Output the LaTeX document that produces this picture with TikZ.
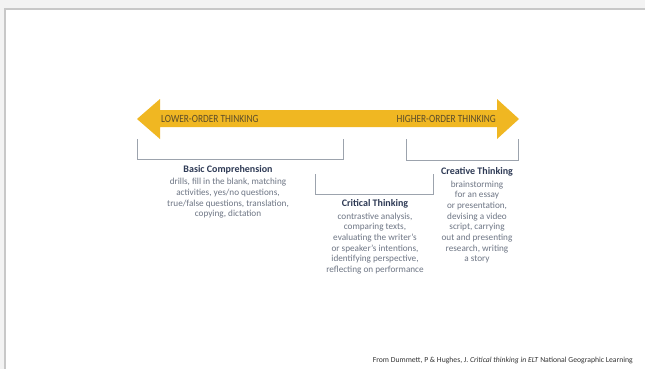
\documentclass[tikz,border=0pt]{standalone}
\usepackage{fontspec}
\setmainfont{Carlito}
\newfontfamily\arrowfont[FakeStretch=0.85]{Carlito}
\definecolor{pagebg}{HTML}{F3F3F3}
\definecolor{frameline}{HTML}{C8C8C8}
\definecolor{arrowfill}{HTML}{F0B722}
\definecolor{arrowtext}{HTML}{5C4D2A}
\definecolor{titlecol}{HTML}{2E3A55}
\definecolor{bodycol}{HTML}{6E7685}
\definecolor{bracketcol}{HTML}{9CA3AD}
\definecolor{citecol}{HTML}{333333}
\begin{document}
\begin{tikzpicture}[x=1pt,y=-1pt,
  arrowlabel/.style={text=arrowtext, inner sep=0pt, font=\arrowfont\fontsize{11}{12}\selectfont},
  boxtitle/.style={text=titlecol, inner sep=0pt, font=\bfseries\fontsize{10}{11}\selectfont},
  boxbody/.style={text=bodycol, inner sep=0pt, align=center, font=\fontsize{9.2}{10.7}\selectfont},
  bracket/.style={draw=bracketcol, line width=0.9pt},
  cite/.style={text=citecol, inner sep=0pt, anchor=east, font=\fontsize{7.7}{8}\selectfont}]
\useasboundingbox (0,0) rectangle (645,369);
% page
\fill[pagebg] (0,0) rectangle (645,369);
\fill[white] (5,9.25) rectangle (645,369);
\draw[frameline, line width=2.5pt] (5,369) -- (5,9.25) -- (645,9.25);
% double arrow
\fill[arrowfill] (137,119) -- (160,99) -- (160,110) -- (497,110) -- (497,99) -- (519,119)
  -- (497,139) -- (497,127) -- (160,127) -- (160,139) -- cycle;
\node[arrowlabel, anchor=west] (low) at (161,119) {LOWER-ORDER THINKING};
\node[arrowlabel, anchor=east] (high) at (496,119) {HIGHER-ORDER THINKING};
% brackets
\coordinate (b1a) at (137,139); \coordinate (b1b) at (343,139);
\coordinate (b2a) at (315,174); \coordinate (b2b) at (433,174);
\coordinate (b3a) at (406,139); \coordinate (b3b) at (518,139);
\draw[bracket] (b1a) -- ++(0,20) -| (b1b);
\draw[bracket] (b2a) -- ++(0,20) -| (b2b);
\draw[bracket] (b3a) -- ++(0,21) -| (b3b);
% texts
\node[boxtitle] (bct) at (228,170) {Basic Comprehension};
\node[boxbody] (bcb) at (228,198.5) {drills, fill in the blank, matching\\activities, yes/no questions,\\true/false questions, translation,\\copying, dictation};
\node[boxtitle] (ctt) at (375,204) {Critical Thinking};
\node[boxbody] (ctb) at (375,243.5) {contrastive analysis,\\comparing texts,\\evaluating the writer's\\or speaker's intentions,\\identifying perspective,\\reflecting on performance};
\node[boxtitle] (crt) at (477,172) {Creative Thinking};
\node[boxbody] (crb) at (477,222) {brainstorming\\for an essay\\or presentation,\\devising a video\\script, carrying\\out and presenting\\research, writing\\a story};
\node[cite] (src) at (633,360) {From Dummett, P \& Hughes, J. \textit{Critical thinking in ELT} National Geographic Learning};
\end{tikzpicture}
\end{document}
